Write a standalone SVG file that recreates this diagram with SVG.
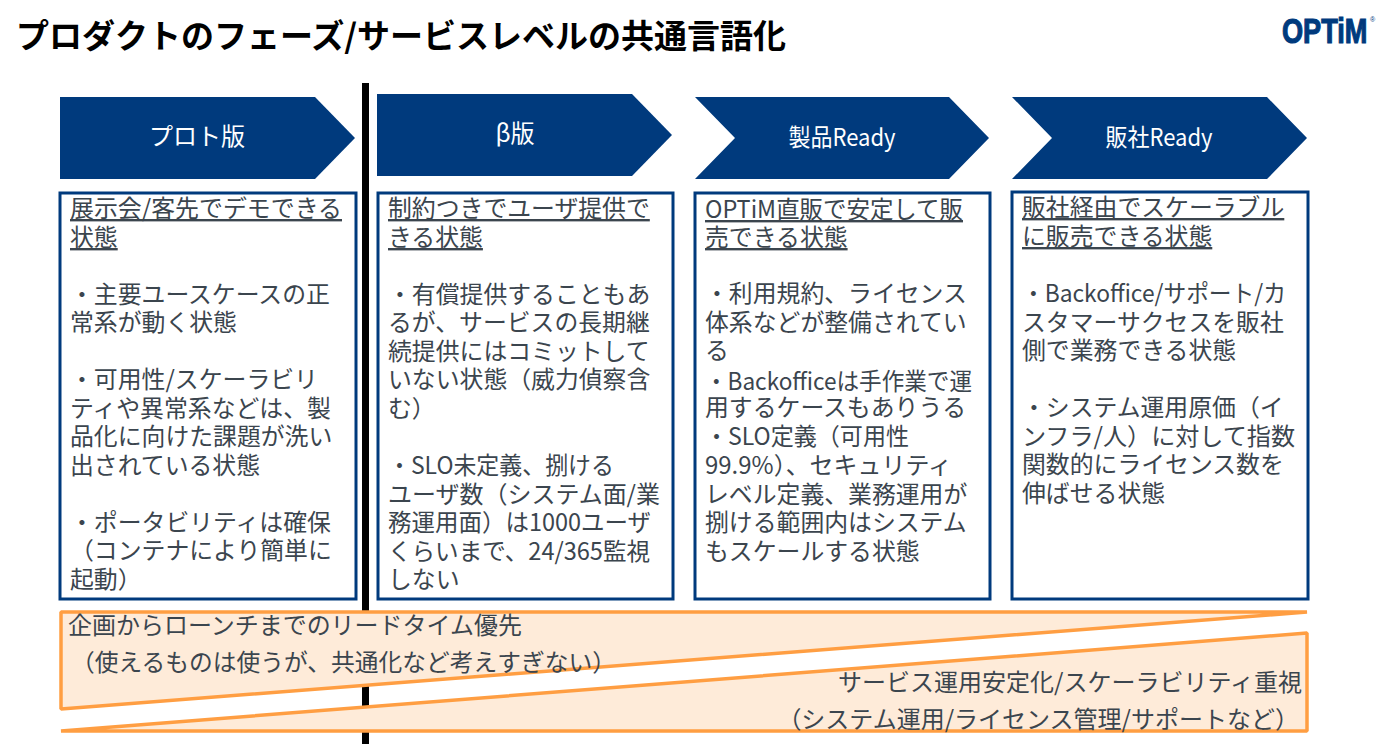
<svg xmlns="http://www.w3.org/2000/svg" width="1382" height="744" viewBox="0 0 1382 744">
<style>
text{font-family:"Noto Sans CJK JP","Noto Sans",sans-serif}
.t{font-size:33px;font-weight:700;fill:#000}
.h{font-size:24px;fill:#fff;text-anchor:middle}
.b{font-size:23.85px;fill:#3b454e}
.u{text-decoration:underline}
.a{fill:#003a7d}
.box{fill:#fff;stroke:#003a7d;stroke-width:3}
.o{fill:#feebd9;stroke:#ff9e42;stroke-width:3.5;stroke-linejoin:bevel}
.l{font-size:24px;fill:#3b454e}
.g{font-family:"Liberation Sans",sans-serif;fill:#003a7d}
</style>
<rect width="1382" height="744" fill="#fff"/>
<text class="t" x="16" y="48" textLength="770" lengthAdjust="spacingAndGlyphs">プロダクトのフェーズ/サービスレベルの共通言語化</text>
<g id="logo"><text class="g" transform="translate(1282 43) scale(.754 1)" font-size="36" font-weight="700" stroke="#003a7d" stroke-width="1.2">OPTiM</text><text class="g" x="1370" y="22" font-size="7">®</text></g>
<rect id="divider" x="362" y="83" width="7" height="661" fill="#000"/>
<g id="phase1"><polygon class="a" points="60,97 315,97 355,138 315,179 60,179"/><text class="h" x="197" y="145">プロト版</text></g>
<g id="phase2"><polygon class="a" points="377,94 632,94 672,135 632,176 377,176"/><text class="h" x="515" y="142">β版</text></g>
<g id="phase3"><polygon class="a" points="695,97 949,97 989,138 949,179 695,179 735,138"/><text class="h" x="842" y="146" textLength="107" lengthAdjust="spacingAndGlyphs">製品Ready</text></g>
<g id="phase4"><polygon class="a" points="1012,97 1267,97 1307,138 1267,179 1012,179 1052,138"/><text class="h" x="1159" y="146" textLength="107" lengthAdjust="spacingAndGlyphs">販社Ready</text></g>
<g id="col1"><rect class="box" x="60" y="193" width="296" height="406"/>
<text class="b u" x="70" y="217" textLength="272" lengthAdjust="spacingAndGlyphs">展示会/客先でデモできる</text><text class="b u" x="70" y="246">状態</text>
<text class="b" x="70" y="303">・主要ユースケースの正</text><text class="b" x="70" y="331">常系が動く状態</text>
<text class="b" x="70" y="388" textLength="248" lengthAdjust="spacingAndGlyphs">・可用性/スケーラビリ</text><text class="b" x="70" y="417">ティや異常系などは、製</text><text class="b" x="70" y="445">品化に向けた課題が洗い</text><text class="b" x="70" y="474">出されている状態</text>
<text class="b" x="70" y="531">・ポータビリティは確保</text><text class="b" x="70" y="559">（コンテナにより簡単に</text><text class="b" x="70" y="588">起動）</text></g>
<g id="col2"><rect class="box" x="378" y="193" width="295" height="406"/>
<text class="b u" x="388" y="217">制約つきでユーザ提供で</text><text class="b u" x="388" y="246">きる状態</text>
<text class="b" x="388" y="303">・有償提供することもあ</text><text class="b" x="388" y="331">るが、サービスの長期継</text><text class="b" x="388" y="360">続提供にはコミットして</text><text class="b" x="388" y="388">いない状態（威力偵察含</text><text class="b" x="388" y="417">む）</text>
<text class="b" x="388" y="474" textLength="226" lengthAdjust="spacingAndGlyphs">・SLO未定義、捌ける</text><text class="b" x="388" y="503" textLength="272" lengthAdjust="spacingAndGlyphs">ユーザ数（システム面/業</text><text class="b" x="388" y="531" textLength="263" lengthAdjust="spacingAndGlyphs">務運用面）は1000ユーザ</text><text class="b" x="388" y="560" textLength="262" lengthAdjust="spacingAndGlyphs">くらいまで、24/365監視</text><text class="b" x="388" y="588">しない</text></g>
<g id="col3"><rect class="box" x="695" y="193" width="295" height="406"/>
<text class="b u" x="705" y="218" textLength="258" lengthAdjust="spacingAndGlyphs">OPTiM直販で安定して販</text><text class="b u" x="705" y="246">売できる状態</text>
<text class="b" x="705" y="302">・利用規約、ライセンス</text><text class="b" x="705" y="331">体系などが整備されてい</text><text class="b" x="705" y="359">る</text><text class="b" x="705" y="390" textLength="267" lengthAdjust="spacingAndGlyphs">・Backofficeは手作業で運</text><text class="b" x="705" y="416">用するケースもありうる</text><text class="b" x="705" y="445" textLength="204" lengthAdjust="spacingAndGlyphs">・SLO定義（可用性</text><text class="b" x="705" y="474" textLength="247" lengthAdjust="spacingAndGlyphs">99.9%）、セキュリティ</text><text class="b" x="705" y="503">レベル定義、業務運用が</text><text class="b" x="705" y="531">捌ける範囲内はシステム</text><text class="b" x="705" y="560">もスケールする状態</text></g>
<g id="col4"><rect class="box" x="1012" y="192" width="296" height="407"/>
<text class="b u" x="1022" y="216">販社経由でスケーラブル</text><text class="b u" x="1022" y="245">に販売できる状態</text>
<text class="b" x="1022" y="302" textLength="264" lengthAdjust="spacingAndGlyphs">・Backoffice/サポート/カ</text><text class="b" x="1022" y="331">スタマーサクセスを販社</text><text class="b" x="1022" y="359">側で業務できる状態</text>
<text class="b" x="1022" y="416">・システム運用原価（イ</text><text class="b" x="1022" y="445" textLength="273" lengthAdjust="spacingAndGlyphs">ンフラ/人）に対して指数</text><text class="b" x="1022" y="473">関数的にライセンス数を</text><text class="b" x="1022" y="502">伸ばせる状態</text></g>
<g id="lead"><polygon class="o" points="61,612 1307,612 61,709"/><text class="l" x="68" y="634" textLength="454" lengthAdjust="spacingAndGlyphs">企画からローンチまでのリードタイム優先</text><text class="l" x="71" y="671" textLength="545" lengthAdjust="spacingAndGlyphs">（使えるものは使うが、共通化など考えすぎない）</text></g>
<g id="stable"><polygon class="o" points="1307,633 1307,731 61,731"/><text class="l" x="1302" y="691" text-anchor="end">サービス運用安定化/スケーラビリティ重視</text><text class="l" x="1299" y="728" text-anchor="end">（システム運用/ライセンス管理/サポートなど）</text></g>
</svg>
